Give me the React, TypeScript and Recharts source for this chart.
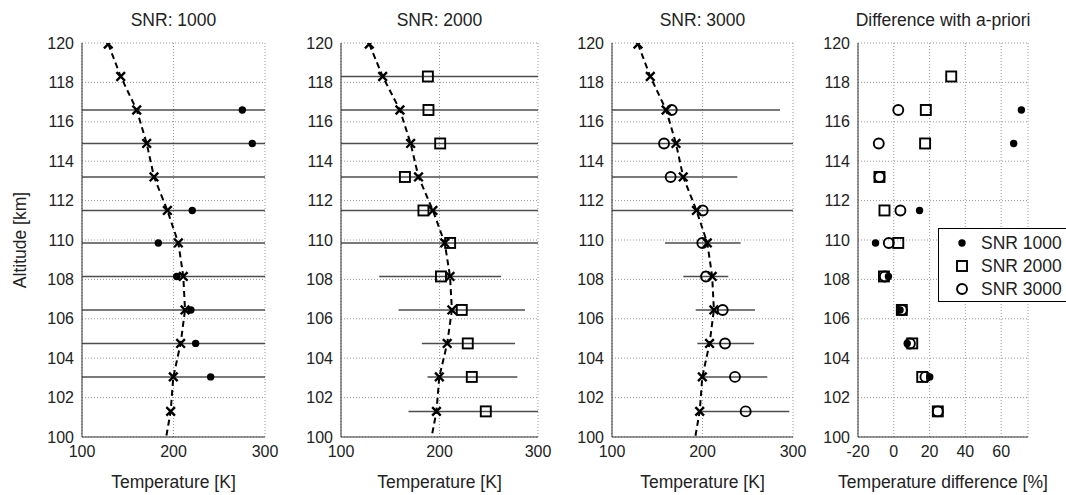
import { ScatterChart, Scatter, XAxis, YAxis, CartesianGrid, ReferenceLine } from 'recharts';

const FONT = '"Liberation Sans", Arial, Helvetica, sans-serif';
const INK = '#222';

// retrieval levels (km)
const altitudes = [119.95, 118.3, 116.6, 114.9, 113.2, 111.5, 109.85, 108.15, 106.45, 104.75, 103.05, 101.3];

// a-priori profile (dashed line with crosses), continues down to the axis
const aprioriTemp = [128.7, 142.3, 159.8, 170.7, 178.7, 193.3, 205.3, 210.7, 212.6, 207.8, 199.8, 196.9];
const aprioriBaseAlt = 100;
const aprioriBaseTemp = 192;

// SNR 1000: retrieved temperature and error bar ends (most bars run off the axes)
const temp1000 = [null, null, 275.2, 286.1, null, 220.5, 183.4, 203.5, 219, 224.2, 240.6, null];
const low1000 = [null, null, 60, 50, 40, 60, 40, 70, 80, 80, 80, null];
const high1000 = [null, null, 480, 520, 420, 380, 330, 340, 360, 370, 400, null];

// SNR 2000
const temp2000 = [null, 188.2, 188.8, 200.7, 164.9, 183.7, 210.8, 201.5, 222.6, 228.7, 232.8, 247];
const low2000 = [null, 58, 55, 80, 15, 58, 92, 138.8, 158.4, 182.1, 187.8, 168.5];
const high2000 = [null, 318, 322, 321, 315, 309, 330, 262.5, 286.8, 276.7, 279, 325.5];

// SNR 3000
const temp3000 = [null, null, 166, 157.5, 164.8, 200.2, 199.8, 203.9, 222.3, 224.9, 235.9, 247.7];
const low3000 = [null, null, 46, 20, 91, 70, 158.6, 178.8, 192.5, 194.3, 200.9, 197.2];
const high3000 = [null, null, 285.6, 310, 238.5, 330, 242.2, 228.5, 258, 257, 271.6, 295.9];

// difference with a-priori (%)
const diff1000 = [null, null, 71.3, 67, null, 14.4, -10.2, -3, 3.5, 7.5, 20.1, null];
const diff2000 = [null, 32.1, 17.9, 17.5, -8, -5.2, 2.5, -5.5, 4.5, 10.3, 15.9, 24.6];
const diff3000 = [null, null, 2.5, -8.4, -8, 3.7, -2.8, -5, 4.5, 9, 17.7, 24.6];

const tempTicks = [100, 200, 300];
const diffTicks = [-20, 0, 20, 40, 60];
const altTicks = [100, 102, 104, 106, 108, 110, 112, 114, 116, 118, 120];

type Row = { x: number; alt: number };

const rows = (vals: (number | null)[]): Row[] =>
  altitudes
    .map((alt, i) => ({ x: vals[i] as number, alt }))
    .filter((r) => r.x !== null && r.x !== undefined);

const aprioriLineRows: Row[] = [...rows(aprioriTemp), { x: aprioriBaseTemp, alt: aprioriBaseAlt }];

const Cross = (p: any) => (
  <path
    d={`M${p.cx - 4.3},${p.cy - 4.3}L${p.cx + 4.3},${p.cy + 4.3}M${p.cx - 4.3},${p.cy + 4.3}L${p.cx + 4.3},${p.cy - 4.3}`}
    stroke="#000"
    strokeWidth={2.4}
    fill="none"
  />
);
const Dot = (p: any) => <circle cx={p.cx} cy={p.cy} r={3.7} fill="#000" />;
const Square = (p: any) => (
  <rect x={p.cx - 5} y={p.cy - 5} width={10} height={10} fill="none" stroke="#000" strokeWidth={1.9} />
);
const Ring = (p: any) => <circle cx={p.cx} cy={p.cy} r={5} fill="none" stroke="#000" strokeWidth={1.9} />;
const Nothing = () => <g />;

function errorBars(low: (number | null)[], high: (number | null)[], tag: string) {
  return altitudes.map((alt, i) =>
    low[i] === null ? null : (
      <ReferenceLine
        key={`${tag}-${i}`}
        segment={[
          { x: low[i] as number, y: alt },
          { x: high[i] as number, y: alt },
        ]}
        stroke="#4d4d4d"
        strokeWidth={1.5}
        ifOverflow="hidden"
      />
    )
  );
}

function aprioriSeries() {
  return [
    <Scatter
      key="ap-line"
      data={aprioriLineRows}
      line={{ stroke: '#000', strokeWidth: 2, strokeDasharray: '6 4' }}
      shape={Nothing}
      isAnimationActive={false}
    />,
    <Scatter key="ap-mark" data={rows(aprioriTemp)} shape={Cross} isAnimationActive={false} />,
  ];
}

const tickStyle = { fill: INK, fontSize: 16, fontFamily: FONT };

type PanelProps = {
  left: number;
  width: number;
  yAxisWidth: number;
  title: string;
  xLabel: string;
  xDomain: [number, number];
  xTicks: number[];
  children: any;
};

function Panel({ left, width, yAxisWidth, title, xLabel, xDomain, xTicks, children }: PanelProps) {
  const plotW = width - yAxisWidth - 20;
  return (
    <div style={{ position: 'absolute', left, top: 0 }}>
      <div
        style={{
          position: 'absolute',
          left: yAxisWidth - 60,
          width: plotW + 120,
          top: 10,
          textAlign: 'center',
          fontSize: 17.5,
          fontFamily: FONT,
          color: INK,
          lineHeight: '20px',
          whiteSpace: 'nowrap',
        }}
      >
        {title}
      </div>
      <ScatterChart width={width} height={495} margin={{ top: 43, right: 20, bottom: 0, left: 0 }}>
        <CartesianGrid stroke="#999" strokeDasharray="1 2" />
        <XAxis
          type="number"
          dataKey="x"
          domain={xDomain}
          ticks={xTicks}
          allowDataOverflow
          height={58}
          tickLine={false}
          axisLine={{ stroke: '#333' }}
          tick={tickStyle}
          tickMargin={3}
          label={{ value: xLabel, position: 'insideBottom', offset: 7, fill: INK, fontSize: 17.5, fontFamily: FONT }}
        />
        <YAxis
          type="number"
          dataKey="alt"
          domain={[100, 120]}
          ticks={altTicks}
          allowDataOverflow
          width={yAxisWidth}
          tickLine={false}
          axisLine={{ stroke: '#333' }}
          tick={tickStyle}
        />
        {children}
      </ScatterChart>
    </div>
  );
}

export default function App() {
  return (
    <div
      style={{
        position: 'absolute',
        left: 0,
        top: 0,
        width: 1066,
        height: 495,
        background: '#fff',
        overflow: 'hidden',
      }}
    >
      <div
        style={{
          position: 'absolute',
          left: 20,
          top: 240,
          transform: 'translate(-50%, -50%) rotate(-90deg)',
          fontSize: 17.5,
          fontFamily: FONT,
          color: INK,
          whiteSpace: 'nowrap',
          lineHeight: '20px',
        }}
      >
        Altitude [km]
      </div>

      <Panel left={0} width={285} yAxisWidth={82} title="SNR: 1000" xLabel="Temperature [K]" xDomain={[100, 300]} xTicks={tempTicks}>
        {errorBars(low1000, high1000, 'e1')}
        {aprioriSeries()}
        <Scatter data={rows(temp1000)} shape={Dot} isAnimationActive={false} />
      </Panel>

      <Panel left={281} width={277} yAxisWidth={60} title="SNR: 2000" xLabel="Temperature [K]" xDomain={[100, 300]} xTicks={tempTicks}>
        {errorBars(low2000, high2000, 'e2')}
        {aprioriSeries()}
        <Scatter data={rows(temp2000)} shape={Square} isAnimationActive={false} />
      </Panel>

      <Panel left={552} width={261} yAxisWidth={60} title="SNR: 3000" xLabel="Temperature [K]" xDomain={[100, 300]} xTicks={tempTicks}>
        {errorBars(low3000, high3000, 'e3')}
        {aprioriSeries()}
        <Scatter data={rows(temp3000)} shape={Ring} isAnimationActive={false} />
      </Panel>

      <Panel
        left={798}
        width={250}
        yAxisWidth={60}
        title="Difference with a-priori"
        xLabel="Temperature difference [%]"
        xDomain={[-20, 75]}
        xTicks={diffTicks}
      >
        <Scatter data={rows(diff1000)} shape={Dot} isAnimationActive={false} />
        <Scatter data={rows(diff2000)} shape={Square} isAnimationActive={false} />
        <Scatter data={rows(diff3000)} shape={Ring} isAnimationActive={false} />
      </Panel>

      <div
        style={{
          position: 'absolute',
          left: 938,
          top: 228,
          width: 140,
          height: 72,
          border: '1px solid #000',
          background: '#fff',
          fontFamily: FONT,
          fontSize: 17.5,
          color: INK,
        }}
      >
        {[
          { label: 'SNR 1000', mark: <circle cx={8} cy={8} r={3.7} fill="#000" /> },
          { label: 'SNR 2000', mark: <rect x={3} y={3} width={10} height={10} fill="none" stroke="#000" strokeWidth={1.9} /> },
          { label: 'SNR 3000', mark: <circle cx={8} cy={8} r={5} fill="none" stroke="#000" strokeWidth={1.9} /> },
        ].map((item, i) => (
          <div
            key={item.label}
            style={{ position: 'absolute', left: 15, top: 4 + i * 23, height: 20, display: 'flex', alignItems: 'center' }}
          >
            <svg width={16} height={16}>
              {item.mark}
            </svg>
            <span style={{ marginLeft: 11, lineHeight: '20px' }}>{item.label}</span>
          </div>
        ))}
      </div>
    </div>
  );
}
